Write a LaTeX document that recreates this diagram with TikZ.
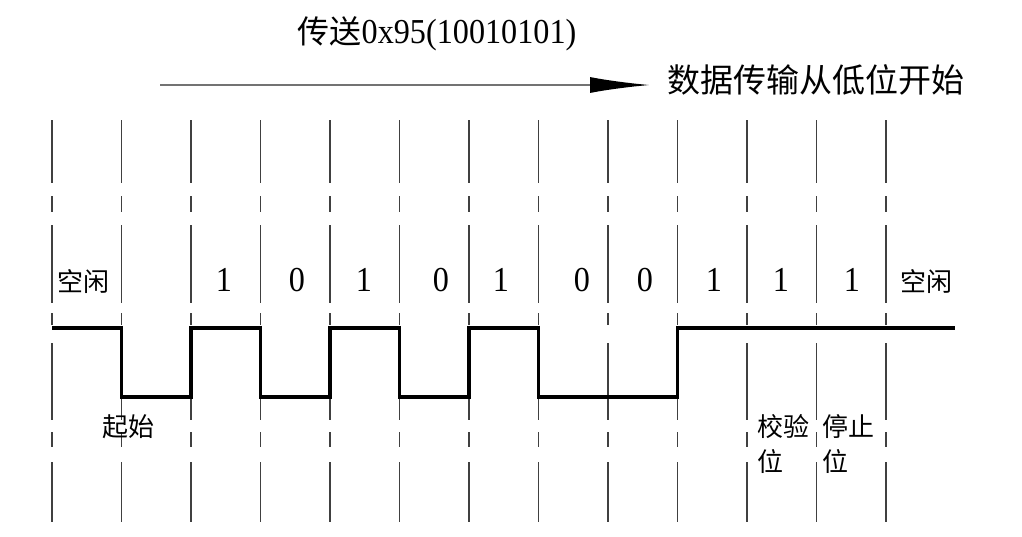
\documentclass[tikz,border=0pt]{standalone}
\usepackage{fontspec}
\setmainfont{Liberation Serif}
\newfontfamily\narrowserif[FakeStretch=0.92]{Liberation Serif}
\newfontfamily\cjk{Noto Sans CJK SC}
\usetikzlibrary{arrows.meta}
\begin{document}
\begin{tikzpicture}[x=1pt,y=-1pt,
  gridline/.style={line width=1.2pt, draw=black!75,
    dash pattern=on 63pt off 13pt on 16pt off 13pt on 78pt off 10pt on 12pt off 18pt on 77pt off 12pt on 15pt off 15pt on 60pt},
  sig/.style={line width=3.5pt, line join=miter},
  bit/.style={font=\narrowserif\fontsize{35}{35}\selectfont, inner sep=0pt},
  lab/.style={font=\cjk\fontsize{26}{35}\selectfont, inner sep=0pt, align=left},
  dirarrow/.style={line width=2pt, draw=black!55, -{Latex[length=60pt,width=16pt,black]}}]
\useasboundingbox (0,0) rectangle (1022,536);
% vertical dashed grid lines
\foreach \i in {0,...,12} {
  \coordinate (t\i) at (52+69.5*\i,120);
  \coordinate (b\i) at (52+69.5*\i,522);
  \draw[gridline] (t\i) -- (b\i);
}
% signal waveform
\draw[sig] (52,328) -- (121.5,328) -- (121.5,397) -- (191,397) -- (191,328)
  -- (260.5,328) -- (260.5,397) -- (330,397) -- (330,328) -- (399.5,328)
  -- (399.5,397) -- (469,397) -- (469,328) -- (538.5,328) -- (538.5,397)
  -- (677.5,397) -- (677.5,328) -- (955,328);
% title and direction arrow
\node[font=\narrowserif\fontsize{35}{35}\selectfont, inner sep=0pt] (title) at (437,34) {{\cjk\fontsize{32}{32}\selectfont 传送}0x95(10010101)};
\coordinate (as) at (160,85);
\coordinate (ae) at (650,85);
\draw[dirarrow] (as) -- (ae);
\node[font=\cjk\fontsize{33}{33}\selectfont, inner sep=0pt, anchor=west] (dir) at (667,80) {数据传输从低位开始};
% bit labels
\node[lab] (idle1) at (83,282) {空闲};
\node[lab] (idle2) at (926,282) {空闲};
\node[bit] (d0) at (224,280) {1};
\node[bit] (d1) at (297,280) {0};
\node[bit] (d2) at (364,280) {1};
\node[bit] (d3) at (441,280) {0};
\node[bit] (d4) at (501,280) {1};
\node[bit] (d5) at (582,280) {0};
\node[bit] (d6) at (645,280) {0};
\node[bit] (d7) at (714,280) {1};
\node[bit] (d8) at (781,280) {1};
\node[bit] (d9) at (852,280) {1};
% lower labels
\node[lab] (start) at (128,427) {起始};
\node[lab, anchor=north west] (parity) at (757,414) {校验\\位};
\node[lab, anchor=north west] (stop) at (822,414) {停止\\位};
\end{tikzpicture}
\end{document}
